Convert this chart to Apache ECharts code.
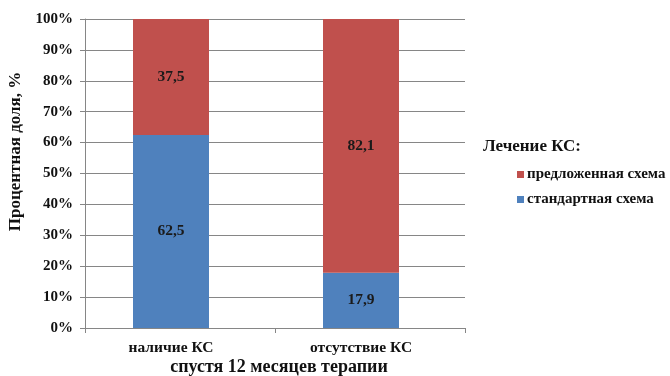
<!DOCTYPE html>
<html>
<head>
<meta charset="utf-8">
<script src="https://cdn.jsdelivr.net/npm/echarts@6/dist/echarts.min.js"></script>
<style>
  html, body { margin: 0; padding: 0; background: #fff; }
  #chart { width: 670px; height: 376px; }
</style>
</head>
<body>
<div id="chart"></div>
<script>
// Share of patients by outcome after 12 months, split by treatment scheme
const categories = ['наличие КС', 'отсутствие КС'];
const standardScheme = [62.5, 17.9];
const proposedScheme = [37.5, 82.1];
const seriesNames = ['стандартная схема', 'предложенная схема'];
const legendOrder = ['предложенная схема', 'стандартная схема'];
const yTicks = { min: 0, max: 100, interval: 10 };

const FONT = '"Liberation Serif", "Times New Roman", serif';
const AXIS_GRAY = '#868686';
const TEXT = '#111';
const fmt = v => String(v).replace('.', ',');

const chart = echarts.init(document.getElementById('chart'));
chart.setOption({
  animation: false,
  backgroundColor: '#ffffff',
  title: {
    text: 'Лечение КС:',
    left: 478, top: 133,
    textStyle: { fontFamily: FONT, fontWeight: 'bold', fontSize: 17, color: TEXT }
  },
  legend: {
    data: legendOrder,
    orient: 'vertical',
    left: 512, top: 162,
    itemWidth: 7, itemHeight: 7, itemGap: 10,
    icon: 'rect',
    textStyle: { fontFamily: FONT, fontWeight: 'bold', fontSize: 15, color: TEXT, padding: [0, 0, 0, -2] }
  },
  grid: [
    // frame with value axis, grid lines and baseline
    { left: 85, top: 19, width: 380, height: 309, outerBoundsMode: 'none' },
    // bars and category labels
    { left: 76, top: 19, width: 380, height: 309, outerBoundsMode: 'none' }
  ],
  xAxis: [
    {
      gridIndex: 0, type: 'category', data: categories,
      axisLine: { lineStyle: { color: AXIS_GRAY } },
      axisTick: { show: true, length: 5, lineStyle: { color: AXIS_GRAY } },
      axisLabel: { show: false },
      name: 'спустя 12 месяцев терапии',
      nameLocation: 'middle', nameGap: 30,
      nameTextStyle: { fontFamily: FONT, fontWeight: 'bold', fontSize: 18, color: TEXT, padding: [0, 0, 0, 8] }
    },
    {
      gridIndex: 1, type: 'category', data: categories,
      axisLine: { show: false }, axisTick: { show: false },
      axisLabel: { margin: 12, fontFamily: FONT, fontWeight: 'bold', fontSize: 15.5, color: TEXT }
    }
  ],
  yAxis: [
    {
      gridIndex: 0, type: 'value', min: yTicks.min, max: yTicks.max, interval: yTicks.interval,
      axisLine: { show: true, lineStyle: { color: AXIS_GRAY } },
      axisTick: { show: true, length: 5, lineStyle: { color: AXIS_GRAY } },
      splitLine: { lineStyle: { color: AXIS_GRAY } },
      axisLabel: { formatter: '{value}%', margin: 12, fontFamily: FONT, fontWeight: 'bold', fontSize: 15, color: TEXT },
      name: 'Процентная доля, %',
      nameLocation: 'middle', nameGap: 59, nameRotate: 90,
      nameTextStyle: { fontFamily: FONT, fontWeight: 'bold', fontSize: 17, color: TEXT, padding: [0, 0, 0, 44] }
    },
    {
      gridIndex: 1, type: 'value', min: yTicks.min, max: yTicks.max, interval: yTicks.interval,
      show: false, splitLine: { show: false }
    }
  ],
  series: [
    {
      name: seriesNames[0], type: 'bar', stack: 'total', xAxisIndex: 1, yAxisIndex: 1,
      data: standardScheme, barWidth: 76,
      itemStyle: { color: '#4F81BD' },
      label: { show: true, position: 'inside', formatter: p => fmt(p.value),
        fontFamily: FONT, fontWeight: 'bold', fontSize: 15.5, color: '#1a1a1a' }
    },
    {
      name: seriesNames[1], type: 'bar', stack: 'total', xAxisIndex: 1, yAxisIndex: 1,
      data: proposedScheme, barWidth: 76,
      itemStyle: { color: '#C0504D' },
      label: { show: true, position: 'inside', formatter: p => fmt(p.value),
        fontFamily: FONT, fontWeight: 'bold', fontSize: 15.5, color: '#1a1a1a' }
    }
  ]
});
</script>
</body>
</html>
